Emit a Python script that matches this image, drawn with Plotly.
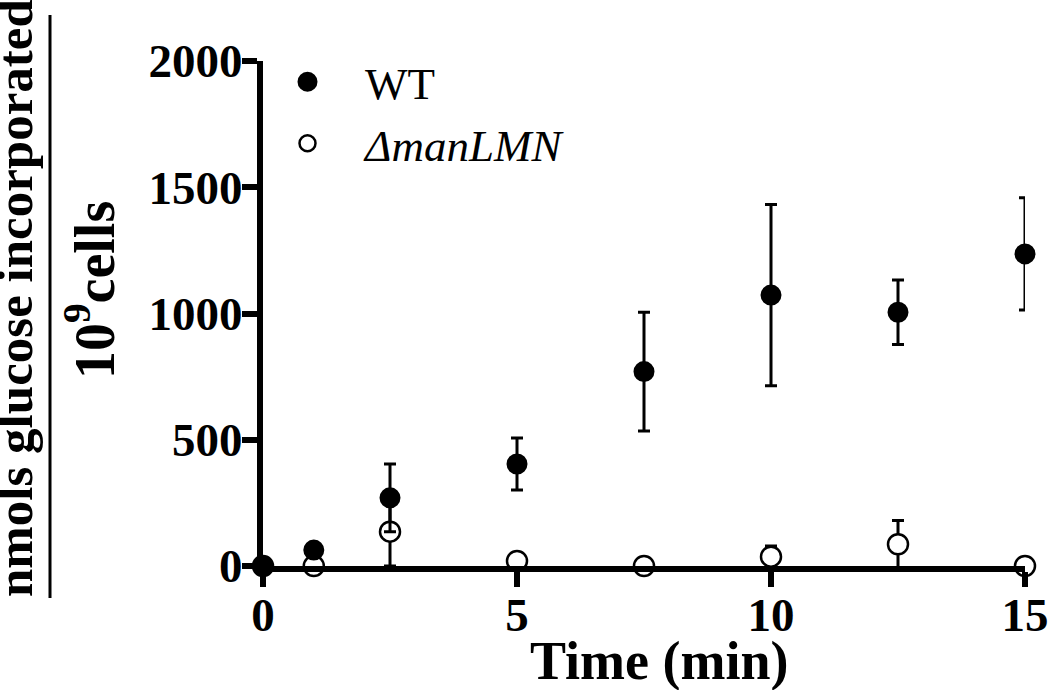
import plotly.graph_objects as go

time_min = [0, 1, 2.5, 5, 7.5, 10, 12.5, 15]
wt_mean = [0, 63, 270, 404, 770, 1073, 1005, 1236]
wt_err = [0, 10, 134, 103, 235, 359, 128, 222]
mut_mean = [0, 0, 136, 20, 0, 37, 86, 0]
mut_err = [0, 0, 136, 10, 0, 42, 94, 0]

x_ticks = [0, 5, 10, 15]
y_ticks = [0, 500, 1000, 1500, 2000]

SERIF = "Liberation Serif, Times New Roman, serif"

fig = go.Figure()

fig.add_trace(go.Scatter(
    x=time_min, y=mut_mean, mode="markers", name="<i>ΔmanLMN</i>",
    marker=dict(size=20, color="white", line=dict(color="black", width=2.5)),
    error_y=dict(type="data", array=mut_err, visible=True, color="black", thickness=3, width=6),
    cliponaxis=False, legendrank=2,
))
fig.add_trace(go.Scatter(
    x=time_min, y=wt_mean, mode="markers", name="WT",
    marker=dict(size=17, color="black", line=dict(color="black", width=4)),
    error_y=dict(type="data", array=wt_err, visible=True, color="black", thickness=3, width=6),
    cliponaxis=False, legendrank=1,
))

L, R, T, B = 263, 25, 61, 124
W, H = 1050, 690
pw, ph = W - L - R, H - T - B

def px_x(px):
    return (px - L) / pw

def px_y(py):
    return (H - B - py) / ph

fig.update_layout(
    width=W, height=H,
    font=dict(family=SERIF, color="black"),
    margin=dict(l=L, r=R, t=T, b=B, pad=0, autoexpand=False),
    paper_bgcolor="white", plot_bgcolor="white",
    showlegend=True,
    legend=dict(
        x=px_x(250), y=px_y(46), xanchor="left", yanchor="top",
        font=dict(family=SERIF, size=45, color="black", weight="normal"),
        itemwidth=105, bgcolor="rgba(0,0,0,0)", borderwidth=0,
        traceorder="normal",
    ),
    xaxis=dict(
        range=[0, 15], tickvals=x_ticks, ticktext=[str(v) for v in x_ticks],
        showgrid=False, zeroline=False, showline=True, linecolor="black", linewidth=6,
        ticks="outside", ticklen=15, tickwidth=6, tickcolor="black",
        ticklabelstandoff=-12, automargin=False,
        tickfont=dict(family=SERIF, size=47, color="black", weight="bold"),
    ),
    yaxis=dict(
        range=[0, 2000], tickvals=y_ticks, ticktext=[str(v) for v in y_ticks],
        showgrid=False, zeroline=False, showline=True, linecolor="black", linewidth=6,
        ticks="outside", ticklen=15, tickwidth=6, tickcolor="black",
        ticklabelstandoff=-10, automargin=False,
        tickfont=dict(family=SERIF, size=47, color="black", weight="bold"),
    ),
    annotations=[
        dict(text="Time (min)", xref="paper", yref="paper", x=px_x(659), y=px_y(661),
             xanchor="center", yanchor="middle", showarrow=False,
             font=dict(family=SERIF, size=54, color="black", weight="bold")),
        dict(text="nmols glucose incorporated", xref="paper", yref="paper",
             x=px_x(15), y=px_y(298), xanchor="center", yanchor="middle", showarrow=False,
             textangle=-90, font=dict(family=SERIF, size=51, color="black", weight="bold")),
        dict(text="10<sup>9</sup>cells", xref="paper", yref="paper",
             x=px_x(90), y=px_y(290), xanchor="center", yanchor="middle", showarrow=False,
             textangle=-90, font=dict(family=SERIF, size=56, color="black", weight="bold")),
    ],
    shapes=[
        dict(type="line", xref="paper", yref="paper", x0=px_x(50), x1=px_x(50),
             y0=px_y(15), y1=px_y(598), line=dict(color="black", width=3)),
    ],
)

fig.write_html(
    "out.html",
    config={"displayModeBar": False},
    post_script="document.body.style.margin='0px';document.body.style.overflow='hidden';",
)
